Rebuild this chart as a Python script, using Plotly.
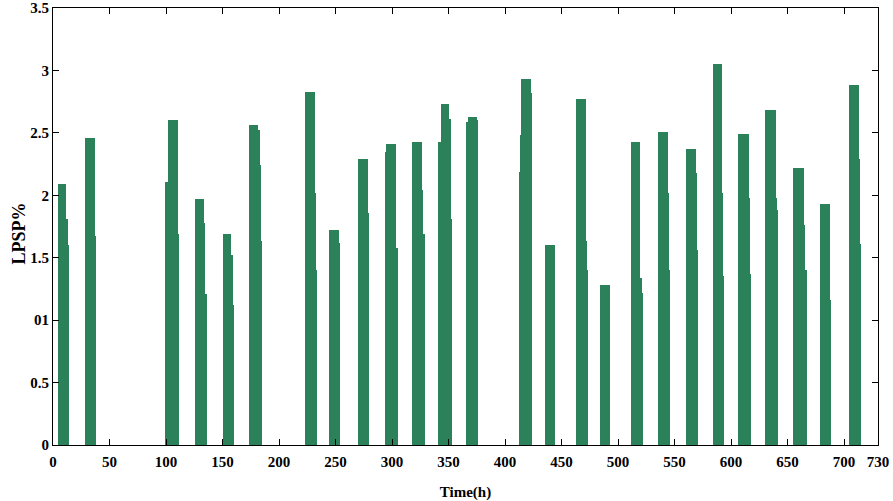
import plotly.graph_objects as go

# Start hour of each cluster of hourly LPSP values
cluster_start = [5, 29, 100, 127, 151, 174, 224, 245, 271, 295, 319, 342, 366,
                 413, 436, 464, 485, 512, 536, 561, 585, 607, 631, 656, 680, 705]

# Hourly LPSP (%) values of each cluster
cluster_vals = [
    [2.09, 2.09, 2.09, 2.09, 2.09, 2.09, 2.09, 1.81, 1.60],
    [2.46, 2.46, 2.46, 2.46, 2.46, 2.46, 2.46, 2.46, 1.67],
    [2.11, 2.11, 2.11, 2.60, 2.60, 2.60, 2.60, 2.60, 2.60, 2.60, 2.60, 1.69],
    [1.97, 1.97, 1.97, 1.97, 1.97, 1.97, 1.97, 1.78, 1.21],
    [1.69, 1.69, 1.69, 1.69, 1.69, 1.69, 1.69, 1.52, 1.12],
    [2.56, 2.56, 2.56, 2.56, 2.56, 2.56, 2.56, 2.56, 2.52, 2.24, 1.63],
    [2.83, 2.83, 2.83, 2.83, 2.83, 2.83, 2.83, 2.83, 2.02, 1.40],
    [1.72, 1.72, 1.72, 1.72, 1.72, 1.72, 1.72, 1.72, 1.62],
    [2.29, 2.29, 2.29, 2.29, 2.29, 2.29, 2.29, 2.29, 1.86],
    [2.35, 2.41, 2.41, 2.41, 2.41, 2.41, 2.41, 2.41, 2.41, 1.58],
    [2.43, 2.43, 2.43, 2.43, 2.43, 2.43, 2.43, 2.43, 2.04, 1.69],
    [2.43, 2.43, 2.73, 2.73, 2.73, 2.73, 2.73, 2.73, 2.73, 2.61, 1.81],
    [2.59, 2.59, 2.63, 2.63, 2.63, 2.63, 2.63, 2.63, 2.63, 2.60],
    [2.19, 2.48, 2.93, 2.93, 2.93, 2.93, 2.93, 2.93, 2.93, 2.93, 2.82],
    [1.60, 1.60, 1.60, 1.60, 1.60, 1.60, 1.60, 1.60],
    [2.77, 2.77, 2.77, 2.77, 2.77, 2.77, 2.77, 2.77, 1.63, 1.40],
    [1.28, 1.28, 1.28, 1.28, 1.28, 1.28, 1.28, 1.28],
    [2.43, 2.43, 2.43, 2.43, 2.43, 2.43, 2.43, 2.43, 1.34, 1.22],
    [2.51, 2.51, 2.51, 2.51, 2.51, 2.51, 2.51, 2.51, 2.02, 1.40],
    [2.37, 2.37, 2.37, 2.37, 2.37, 2.37, 2.37, 2.37, 2.18, 1.56],
    [3.05, 3.05, 3.05, 3.05, 3.05, 3.05, 3.05, 2.02, 1.35],
    [2.49, 2.49, 2.49, 2.49, 2.49, 2.49, 2.49, 2.49, 2.49, 1.98, 1.37],
    [2.68, 2.68, 2.68, 2.68, 2.68, 2.68, 2.68, 2.68, 2.68, 1.98, 1.88],
    [2.22, 2.22, 2.22, 2.22, 2.22, 2.22, 2.22, 2.22, 2.22, 1.76, 1.40],
    [1.93, 1.93, 1.93, 1.93, 1.93, 1.93, 1.93, 1.93, 1.16],
    [2.88, 2.88, 2.88, 2.88, 2.88, 2.88, 2.88, 2.88, 2.29, 1.61],
]

x_tickvals = [0, 50, 100, 150, 200, 250, 300, 350, 400, 450, 500, 550, 600, 650, 700, 730]
x_ticktext = ["0", "50", "100", "150", "200", "250", "300", "350", "400", "450",
              "500", "550", "600", "650", "700", "730"]
y_tickvals = [0, 0.5, 1, 1.5, 2, 2.5, 3, 3.5]
y_ticktext = ["0", "0.5", "01", "1.5", "2", "2.5", "3", "3.5"]

hours = []
lpsp = []
for s, vals in zip(cluster_start, cluster_vals):
    for i, v in enumerate(vals):
        hours.append(s + i)
        lpsp.append(v)

FONT = "Liberation Serif, Times New Roman, serif"
GREEN = "#2b8159"

fig = go.Figure(go.Bar(x=hours, y=lpsp, width=1, marker=dict(color=GREEN, line=dict(width=0))))

fig.update_layout(
    width=893, height=501,
    margin=dict(l=53, r=15, t=8, b=56),
    paper_bgcolor="white", plot_bgcolor="white",
    bargap=0, showlegend=False,
    font=dict(family=FONT, size=15, color="black", weight="bold"),
)
fig.update_xaxes(
    range=[0, 730], tickmode="array", tickvals=x_tickvals, ticktext=x_ticktext,
    showline=True, linecolor="black", linewidth=1, mirror="ticks",
    ticks="inside", ticklen=6, tickcolor="black", showgrid=False, zeroline=False,
    tickfont=dict(family=FONT, size=15, weight="bold"), ticklabelstandoff=3,
    automargin=False,
    title=dict(text="Time(h)", font=dict(family=FONT, size=15, weight="bold"), standoff=20),
)
fig.update_yaxes(
    range=[0, 3.5], tickmode="array", tickvals=y_tickvals, ticktext=y_ticktext,
    showline=True, linecolor="black", linewidth=1, mirror="ticks",
    ticks="inside", ticklen=6, tickcolor="black", showgrid=False, zeroline=False,
    tickfont=dict(family=FONT, size=15, weight="bold"),
    automargin=False,
)
# y-axis title placed as a rotated annotation (slightly below the axis centre, as in the original)
fig.add_annotation(
    text="LPSP%", textangle=-90, showarrow=False,
    xref="paper", yref="paper", x=(18.5 - 53) / 825, y=(445 - 234) / 437,
    xanchor="center", yanchor="middle",
    font=dict(family=FONT, size=18, weight="bold", color="black"),
)

fig.write_html("out.html")
